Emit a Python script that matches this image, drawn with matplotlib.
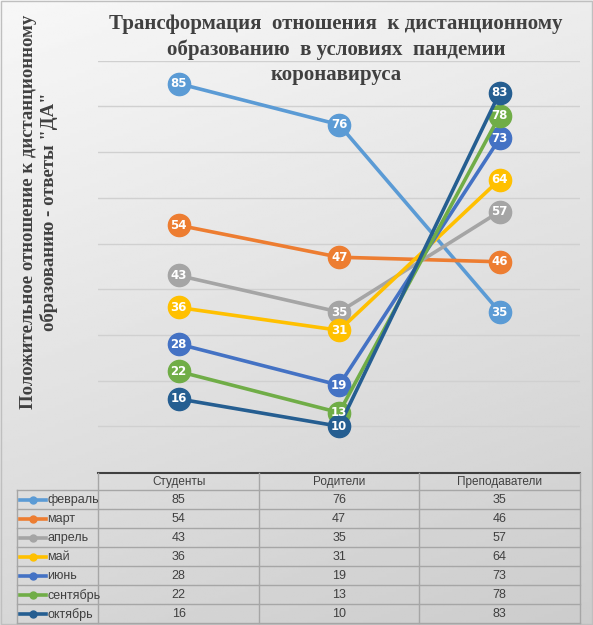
import numpy as np
import matplotlib.pyplot as plt
from matplotlib.lines import Line2D

# Данные
categories = ["Студенты", "Родители", "Преподаватели"]
months = ["февраль", "март", "апрель", "май", "июнь", "сентябрь", "октябрь"]
values = {
    "февраль": [85, 76, 35],
    "март": [54, 47, 46],
    "апрель": [43, 35, 57],
    "май": [36, 31, 64],
    "июнь": [28, 19, 73],
    "сентябрь": [22, 13, 78],
    "октябрь": [16, 10, 83],
}
colors = ["#5B9BD5", "#ED7D31", "#A5A5A5", "#FFC000", "#4472C4", "#70AD47", "#255E91"]

title_lines = ["Трансформация  отношения  к дистанционному",
               "образованию  в условиях  пандемии",
               "коронавируса"]
ylabel = "Положительное отношение к дистанционному\nобразованию - ответы \"ДА\""

W, H = 593, 625
fig = plt.figure(figsize=(W / 100, H / 100), dpi=100)

# Фон с градиентом
bg = fig.add_axes([0, 0, 1, 1], zorder=0)
yy, xx = np.mgrid[0:1:200j, 0:1:200j]
grad = 0.97 - 0.17 * (0.75 * yy + 0.25 * xx)
bg.imshow(grad, cmap="gray", vmin=0, vmax=1, extent=[0, 1, 0, 1], aspect="auto", origin="upper")
bg.axis("off")
bg.add_patch(plt.Rectangle((0.001, 0.001), 0.997, 0.997, fill=False, ec="#bfbfbf", lw=1))

# Область графика (пиксели в долях фигуры)
x_left, x_right = 98.3, 580
y_top, y_bottom = 60.7, 472
ax = fig.add_axes([x_left / W, 1 - y_bottom / H, (x_right - x_left) / W, (y_bottom - y_top) / H], zorder=2)
ax.patch.set_alpha(0)
ax.set_xlim(-0.5, len(categories) - 0.5)
ax.set_ylim(0, 90)
for s in ax.spines.values():
    s.set_visible(False)
ax.set_xticks([])
ax.set_yticks([])
for g in range(10, 91, 10):
    ax.axhline(g, color="#d0d0d0", lw=1, zorder=1)

x = np.arange(len(categories))
for m, c in zip(months, colors):
    v = values[m]
    ax.plot(x, v, color=c, lw=2.6, marker="o", ms=16, mfc=c, mec=c, zorder=3, solid_capstyle="round")
    for xi, vi in zip(x, v):
        ax.text(xi, vi, str(vi), color="white", fontsize=8.5, fontweight="bold",
                ha="center", va="center", zorder=4, family="DejaVu Sans")

# Заголовок (по строкам) и подпись оси
for k, line in enumerate(title_lines):
    fig.text(336 / W, 1 - (24 + 25.5 * k) / H, line, ha="center", va="center", fontsize=15,
             fontweight="bold", family="Liberation Serif", color="#404040", zorder=1)
fig.text(39 / W, 1 - 212 / H, ylabel, ha="center", va="center", rotation=90, fontsize=13.5,
         fontweight="bold", family="Liberation Serif", color="#404040", linespacing=1.2, zorder=5)

# Таблица данных
ov = fig.add_axes([0, 0, 1, 1], zorder=3)
ov.set_xlim(0, W)
ov.set_ylim(H, 0)
ov.axis("off")
ov.patch.set_alpha(0)

grid_c = "#a6a6a6"
header_top, header_bottom, row_h = 473.3, 490.3, 19.0
leg_left = 16.7
col_w = (x_right - x_left) / len(categories)
n_rows = len(months)
table_bottom = header_bottom + n_rows * row_h

ov.plot([x_left, x_right], [header_top, header_top], color="#404040", lw=1.5)
ov.plot([leg_left, x_right], [header_bottom, header_bottom], color=grid_c, lw=1)
for i in range(1, n_rows + 1):
    yl = header_bottom + i * row_h
    ov.plot([leg_left, x_right], [yl, yl], color=grid_c, lw=1)
ov.plot([leg_left, leg_left], [header_bottom, table_bottom], color=grid_c, lw=1)
for j in range(len(categories) + 1):
    xl = x_left + j * col_w
    ov.plot([xl, xl], [header_top, table_bottom], color=grid_c, lw=1)

for j, cat in enumerate(categories):
    ov.text(x_left + (j + 0.5) * col_w, (header_top + header_bottom) / 2 + 0.5, cat,
            ha="center", va="center", fontsize=8.5, color="#404040", family="Liberation Sans")

for i, (m, c) in enumerate(zip(months, colors)):
    yc = header_bottom + (i + 0.5) * row_h + 0.5
    ov.add_line(Line2D([20, 46], [yc, yc], color=c, lw=2.6))
    ov.plot([33], [yc], marker="o", ms=5, color=c)
    ov.text(47, yc, m, ha="left", va="center", fontsize=9, color="#404040", family="Liberation Sans")
    for j, v in enumerate(values[m]):
        ov.text(x_left + (j + 0.5) * col_w, yc, str(v), ha="center", va="center",
                fontsize=9, color="#404040", family="Liberation Sans")

fig.savefig("out.png", dpi=100)
